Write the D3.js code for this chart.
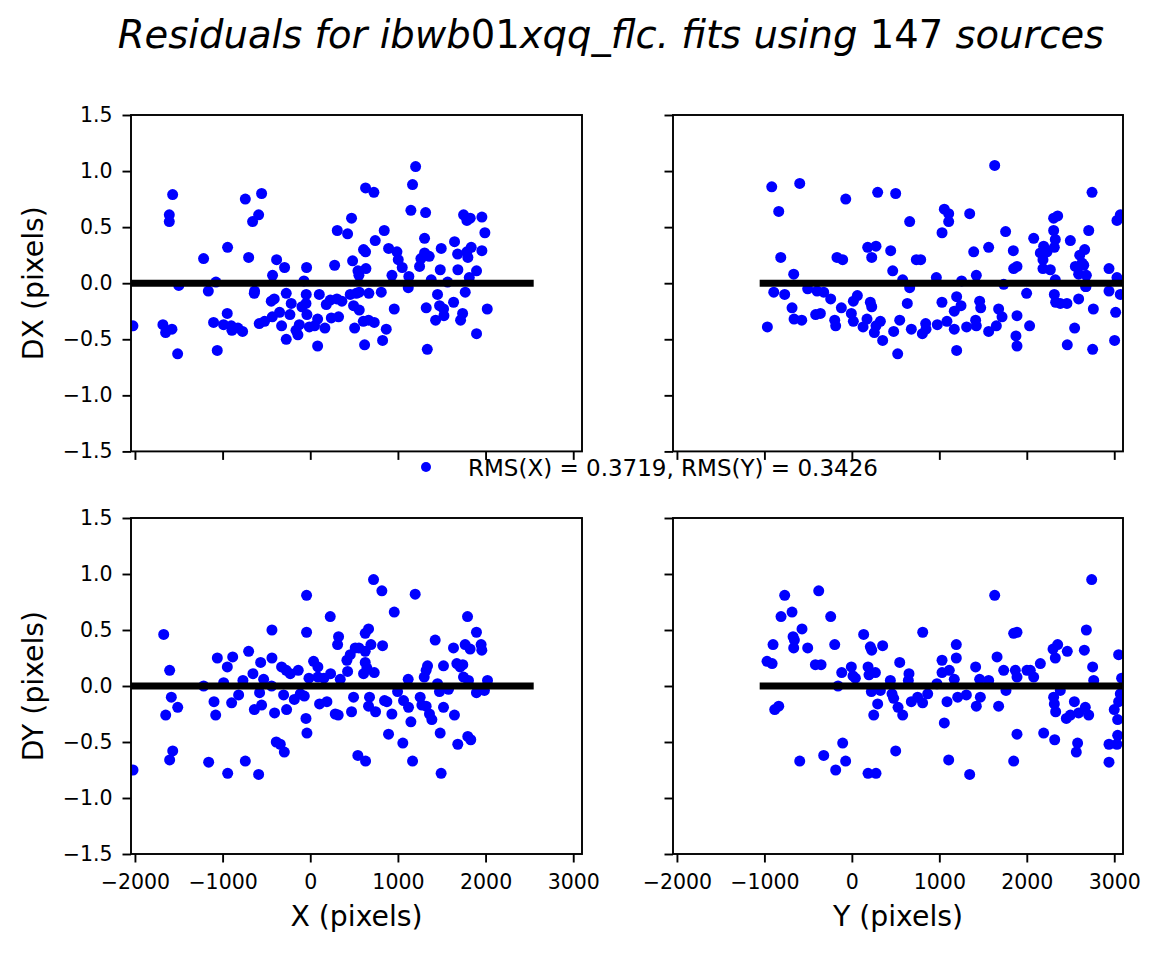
<!DOCTYPE html>
<html lang="en">
  <head>
    <meta charset="UTF-8" />
    <script src="https://d3js.org/d3.v7.min.js"></script>
    <title>Residuals</title>
    <style>
      body { margin: 0; background: #fff; }
      text { font-family: "DejaVu Sans", sans-serif; fill: #000; }
    </style>
  </head>
  <body>
    <script>
      // axis setup shared by all four panels
      const xDomain = [-2045, 3100];
      const yDomain = [-1.5, 1.5];
      const xTicks = [-2000, -1000, 0, 1000, 2000, 3000];
      const yTicks = [-1.5, -1.0, -0.5, 0.0, 0.5, 1.0, 1.5];

      // extent of the thick zero line, left column (X) and right column (Y)
      const zeroLineX = [-2045, 2549];
      const zeroLineY = [-1054, 3100];

      const rmsText = "RMS(X) = 0.3719, RMS(Y) = 0.3426";
      const titleParts = [
        ["Residuals for ibwb", true],
        ["01", false],
        ["xqq_flc. fits using ", true],
        ["147", false],
        [" sources", true],
      ];

      // [X pixel, DX]
      const dxVsX = [
        [-1570,0.79],[-1608,0.61],[-1608,0.55],[-1217,0.22],[-943,0.32],[-741,0.75],[-703,0.23],[-658,0.55],
        [-589,0.61],[-555,0.80],[-430,0.07],[-384,0.21],[-293,0.14],[-42,0.14],[-72,0.02],[278,0.16],
        [308,0.47],[426,0.44],[471,0.58],[483,0.20],[544,0.11],[555,0.07],[608,0.30],[631,0.28],
        [631,0.85],[726,0.81],[635,0.13],[741,0.38],[844,0.47],[894,0.31],[932,0.07],[989,0.28],
        [1004,0.21],[1049,0.14],[1125,0.06],[1148,0.65],[1167,0.88],[1202,1.04],[1247,0.15],[1262,0.22],
        [1304,0.40],[1316,0.63],[1304,0.27],[1357,0.24],[1380,0.03],[1494,0.31],[1483,0.12],[1567,0.01],
        [1646,0.37],[1681,0.26],[1684,0.12],[1749,0.61],[1787,0.56],[1825,0.58],[1798,0.23],[1836,0.32],
        [1787,0.28],[1814,0.05],[1897,0.11],[1958,0.59],[1992,0.45],[1958,0.29],
        [-1076,0.01],[-1163,-0.07],[-2023,-0.38],[-1681,-0.37],[-1650,-0.44],[-1578,-0.41],[-1513,-0.63],
        [-1103,-0.35],[-1061,-0.60],[-947,-0.27],[-989,-0.37],[-901,-0.38],[-894,-0.42],[-825,-0.40],
        [-772,-0.43],[-639,-0.09],[-582,-0.36],[-521,-0.34],[-445,-0.16],[-411,-0.14],[-433,-0.30],
        [-350,-0.26],[-327,-0.38],[-274,-0.09],[-274,-0.50],[-232,-0.28],[-217,-0.18],[-163,-0.42],
        [-141,-0.46],[-125,-0.37],[-95,-0.21],[-46,-0.10],[-49,-0.18],[-38,-0.28],[-11,-0.39],[49,-0.38],
        [84,-0.32],[84,-0.56],[103,-0.10],[167,-0.40],[183,-0.19],[228,-0.15],[240,-0.31],[304,-0.14],
        [323,-0.30],[361,-0.16],[456,-0.10],[494,-0.20],[506,-0.40],[559,-0.24],[559,-0.08],[605,-0.34],
        [620,-0.55],[669,-0.09],[665,-0.33],[730,-0.35],[810,-0.08],[825,-0.51],[867,-0.41],[958,-0.23],
        [1118,-0.04],[1323,-0.22],[1335,-0.59],[1430,-0.33],[1452,-0.10],[1475,-0.20],[1521,-0.23],
        [1525,-0.29],[1635,-0.17],[1715,-0.33],[1738,-0.27],[1768,-0.08],[1897,-0.45],[2019,-0.23],
        [-635,-0.07],[525,-0.09],[-1500,-0.02]
      ];

      // [Y pixel, DX]
      const dxVsY = [
        [-916,0.86],[-596,0.89],[-836,0.64],[-813,0.23],[-665,0.08],[-170,0.23],[-105,0.21],[-70,0.75],
        [181,0.32],[227,0.23],[276,0.33],[295,0.81],[444,0.29],[467,0.11],[501,0.80],[581,0.03],
        [661,0.55],[737,0.21],[787,0.21],[966,0.05],[1031,0.45],[1057,0.66],[1107,0.62],[1107,0.55],
        [1255,0.02],[1347,0.62],[1393,0.28],[1423,0.07],[1564,0.32],[1633,1.05],[1758,0.46],[1846,0.29],
        [1850,0.13],[1888,0.15],[2079,0.40],[2193,0.33],[2155,0.27],[2185,0.21],[2231,0.28],[2185,0.13],
        [2269,0.12],[2307,0.58],[2353,0.60],[2307,0.47],[2326,0.39],[2315,0.32],[2326,0.03],[2498,0.38],
        [2555,0.15],[2605,0.25],[2662,0.30],[2632,0.18],[2651,0.16],[2593,0.08],[2681,0.07],[2708,0.47],
        [2746,0.81],[2940,0.13],[3031,0.05],[3031,0.56],[3069,0.61],[2673,-0.03],
        [-966,-0.39],[-893,-0.08],[-768,-0.10],[-684,-0.22],[-661,-0.32],[-573,-0.33],[-505,-0.05],
        [-414,-0.28],[-360,-0.27],[-398,-0.07],[-322,-0.08],[-242,-0.14],[-196,-0.33],[-185,-0.38],
        [-120,-0.22],[-6,-0.27],[17,-0.16],[63,-0.11],[17,-0.34],[128,-0.39],[173,-0.32],[211,-0.17],
        [227,-0.21],[257,-0.44],[276,-0.38],[326,-0.34],[352,-0.51],[478,-0.43],[524,-0.63],[547,-0.33],
        [634,-0.18],[661,-0.04],[680,-0.41],[806,-0.45],[844,-0.36],[848,-0.41],[977,-0.37],[1030,-0.17],
        [1087,-0.34],[1171,-0.41],[1171,-0.25],[1198,-0.12],[1198,-0.60],[1248,-0.20],[1312,-0.39],
        [1415,-0.33],[1423,-0.38],[1461,-0.16],[1473,-0.22],[1564,-0.43],[1652,-0.38],[1678,-0.23],
        [1717,-0.30],[1736,-0.01],[1888,-0.29],[1876,-0.47],[1888,-0.56],[1998,-0.09],[2032,-0.38],
        [2315,-0.10],[2330,-0.17],[2383,-0.18],[2459,-0.18],[2463,-0.55],[2547,-0.40],[2593,-0.14],
        [2677,-0.03],[2761,-0.23],[2753,-0.59],[2940,-0.07],[3016,-0.26],[3004,-0.51],[3069,-0.10]
      ];

      // [X pixel, DY]
      const dyVsX = [
        [-1672,0.46],[-1604,0.14],[-1216,0.00],[-1060,0.25],[-946,0.17],[-885,0.26],[-988,0.03],[-768,0.05],
        [-703,0.31],[-654,0.11],[-566,0.21],[-532,0.06],[-437,0.50],[-437,0.25],[-441,0.00],[-327,0.17],
        [-274,0.14],[-228,0.11],[-137,0.14],[-42,0.81],[-42,0.48],[-15,0.07],[38,0.22],[87,0.17],
        [87,0.08],[156,0.07],[228,0.62],[232,0.11],[323,0.44],[312,0.37],[342,0.06],[418,0.23],
        [426,0.13],[456,0.28],[513,0.34],[555,0.34],[627,0.47],[665,0.51],[627,0.31],[692,0.37],
        [627,0.21],[646,0.16],[608,0.11],[730,0.12],[722,0.95],[817,0.85],[825,0.36],[958,0.66],
        [1117,0.06],[1197,0.82],[1300,0.08],[1322,0.14],[1338,0.18],[1425,0.41],[1452,0.02],[1520,0.18],
        [1634,0.34],[1672,0.20],[1710,0.17],[1740,0.19],[1748,0.08],[1794,0.62],[1767,0.37],[1824,0.33],
        [1896,0.48],[1949,0.37],[1957,0.32],[2022,0.05],[1805,0.05],
        [-2022,-0.75],[-1649,-0.26],[-1585,-0.10],[-1512,-0.19],[-1604,-0.66],[-1569,-0.58],[-1159,-0.68],
        [-1098,-0.14],[-1079,-0.26],[-942,-0.78],[-897,-0.15],[-817,-0.08],[-741,-0.67],[-638,-0.21],
        [-589,-0.79],[-578,-0.06],[-555,-0.17],[-407,-0.24],[-388,-0.50],[-342,-0.52],[-296,-0.59],
        [-304,-0.08],[-270,-0.21],[-182,-0.12],[-114,-0.07],[-68,-0.09],[-49,-0.29],[-38,-0.42],
        [106,-0.16],[190,-0.14],[285,-0.25],[319,-0.26],[471,-0.23],[494,-0.10],[543,-0.62],[631,-0.67],
        [665,-0.18],[676,-0.10],[745,-0.23],[847,-0.13],[874,-0.14],[893,-0.43],[931,-0.25],[996,-0.05],
        [1056,-0.51],[1064,-0.13],[1121,-0.19],[1148,-0.32],[1167,-0.67],[1254,-0.10],[1273,-0.17],
        [1322,-0.18],[1360,-0.25],[1387,-0.30],[1482,-0.42],[1493,-0.78],[1474,-0.05],[1520,-0.19],
        [1577,-0.03],[1645,-0.26],[1683,-0.52],[1797,-0.45],[1831,-0.48],[1896,-0.06],[1987,-0.04]
      ];

      // [Y pixel, DY]
      const dyVsY = [
        [-970,0.22],[-912,0.20],[-901,0.37],[-768,0.81],[-810,0.62],[-684,0.66],[-672,0.44],[-657,0.41],
        [-665,0.34],[-570,0.51],[-505,0.34],[-379,0.85],[-417,0.19],[-352,0.19],[-242,0.62],[-196,0.37],
        [-158,0.00],[-116,0.12],[-6,0.17],[13,0.09],[40,0.07],[135,0.46],[185,0.17],[196,0.10],
        [211,0.35],[227,0.32],[269,0.12],[352,0.36],[440,0.05],[547,0.21],[653,0.11],[646,0.05],
        [810,0.48],[973,0.02],[1031,0.23],[1031,0.12],[1114,0.14],[1171,0.06],[1194,0.37],[1194,0.25],
        [1415,0.17],[1461,0.06],[1564,0.05],[1633,0.81],[1660,0.26],[1736,0.14],[1850,0.47],[1888,0.48],
        [1869,0.14],[1888,0.08],[2002,0.14],[2040,0.14],[2079,0.08],[2155,0.20],[2300,0.33],[2353,0.37],
        [2326,0.25],[2463,0.31],[2658,0.32],[2681,0.50],[2742,0.95],[2753,0.17],[2765,0.05],[3050,0.28],
        [3084,0.07],
        [-882,-0.21],[-836,-0.18],[-596,-0.67],[-322,-0.62],[-185,-0.75],[-105,-0.51],[-71,-0.67],
        [185,-0.78],[276,-0.78],[223,-0.05],[326,-0.04],[295,-0.16],[250,-0.26],[459,-0.07],[478,-0.11],
        [528,-0.19],[581,-0.26],[501,-0.58],[680,-0.14],[752,-0.10],[809,-0.15],[867,-0.07],[1057,-0.33],
        [1088,-0.14],[1107,-0.66],[1210,-0.10],[1309,-0.08],[1423,-0.18],[1469,-0.10],[1347,-0.79],
        [1678,-0.18],[1762,-0.04],[1850,-0.67],[1888,-0.43],[2193,-0.42],[2319,-0.48],[2307,-0.10],
        [2315,-0.16],[2330,-0.23],[2383,-0.04],[2452,-0.29],[2498,-0.26],[2544,-0.14],[2593,-0.24],
        [2669,-0.19],[2708,-0.26],[2581,-0.51],[2566,-0.59],[2940,-0.52],[3031,-0.52],[2940,-0.68],
        [3000,-0.21],[3050,-0.14],[3039,-0.30],[3039,-0.44],[3069,-0.07]
      ];

      const width = 1161, height = 955;
      const cols = [{ left: 131, w: 451 }, { left: 673, w: 450 }];
      const rows = [{ top: 115, h: 336.4 }, { top: 518, h: 336 }];

      const panels = [
        { row: 0, col: 0, pts: dxVsX, line: zeroLineX, ylabel: "DX (pixels)" },
        { row: 0, col: 1, pts: dxVsY, line: zeroLineY },
        { row: 1, col: 0, pts: dyVsX, line: zeroLineX, ylabel: "DY (pixels)", xlabel: "X (pixels)" },
        { row: 1, col: 1, pts: dyVsY, line: zeroLineY, xlabel: "Y (pixels)" },
      ];

      const svg = d3
        .select("body")
        .append("svg")
        .attr("width", width)
        .attr("height", height);

      svg.append("rect").attr("width", width).attr("height", height).attr("fill", "#fff");

      // title: letters italic, digits upright (mathtext look)
      const title = svg
        .append("text")
        .attr("x", 611)
        .attr("y", 48)
        .attr("text-anchor", "middle")
        .style("font-size", "38.5px");
      titleParts.forEach(([t, it]) => {
        title.append("tspan").style("font-style", it ? "italic" : "normal").text(t);
      });

      panels.forEach((p, i) => {
        const c = cols[p.col], r = rows[p.row];
        const x = d3.scaleLinear().domain(xDomain).range([c.left, c.left + c.w]);
        const y = d3.scaleLinear().domain(yDomain).range([r.top + r.h, r.top]);

        svg.append("clipPath")
          .attr("id", "clip" + i)
          .append("rect")
          .attr("x", c.left).attr("y", r.top)
          .attr("width", c.w).attr("height", r.h);

        const plot = svg.append("g").attr("clip-path", `url(#clip${i})`);

        plot.selectAll("circle")
          .data(p.pts)
          .join("circle")
          .attr("cx", (d) => x(d[0]))
          .attr("cy", (d) => y(d[1]))
          .attr("r", 5.5)
          .attr("fill", "blue");

        plot.append("line")
          .attr("x1", x(p.line[0]))
          .attr("x2", x(p.line[1]))
          .attr("y1", y(0))
          .attr("y2", y(0))
          .attr("stroke", "#000")
          .attr("stroke-width", 7);

        // x axis
        const xa = svg.append("g")
          .attr("transform", `translate(0,${r.top + r.h})`)
          .call(
            d3.axisBottom(x)
              .tickValues(xTicks)
              .tickSize(8.5)
              .tickPadding(12)
              .tickFormat(p.row === 1 ? d3.format("d") : () => "")
          );
        // y axis
        const ya = svg.append("g")
          .attr("transform", `translate(${c.left},0)`)
          .call(
            d3.axisLeft(y)
              .tickValues(yTicks)
              .tickSize(8.5)
              .tickPadding(10)
              .tickFormat(p.col === 0 ? d3.format(".1f") : () => "")
          );
        [xa, ya].forEach((a) => {
          a.select(".domain").remove();
          a.selectAll(".tick line").attr("stroke", "#000").attr("stroke-width", 1.9);
          a.selectAll(".tick text")
            .style("font-family", "DejaVu Sans")
            .style("font-size", "20.5px")
            .attr("fill", "#000");
        });

        // frame
        svg.append("rect")
          .attr("x", c.left).attr("y", r.top)
          .attr("width", c.w).attr("height", r.h)
          .attr("fill", "none")
          .attr("stroke", "#000")
          .attr("stroke-width", 1.9);

        if (p.ylabel) {
          svg.append("text")
            .attr("transform", `translate(43,${r.top + r.h / 2}) rotate(-90)`)
            .attr("text-anchor", "middle")
            .style("font-size", "28.3px")
            .text(p.ylabel);
        }
        if (p.xlabel) {
          svg.append("text")
            .attr("x", c.left + c.w / 2)
            .attr("y", 926)
            .attr("text-anchor", "middle")
            .style("font-size", "28.3px")
            .text(p.xlabel);
        }
      });

      // legend
      svg.append("circle").attr("cx", 426).attr("cy", 467).attr("r", 5).attr("fill", "blue");
      svg.append("text")
        .attr("x", 468)
        .attr("y", 476)
        .style("font-size", "23px")
        .text(rmsText);
    </script>
  </body>
</html>
